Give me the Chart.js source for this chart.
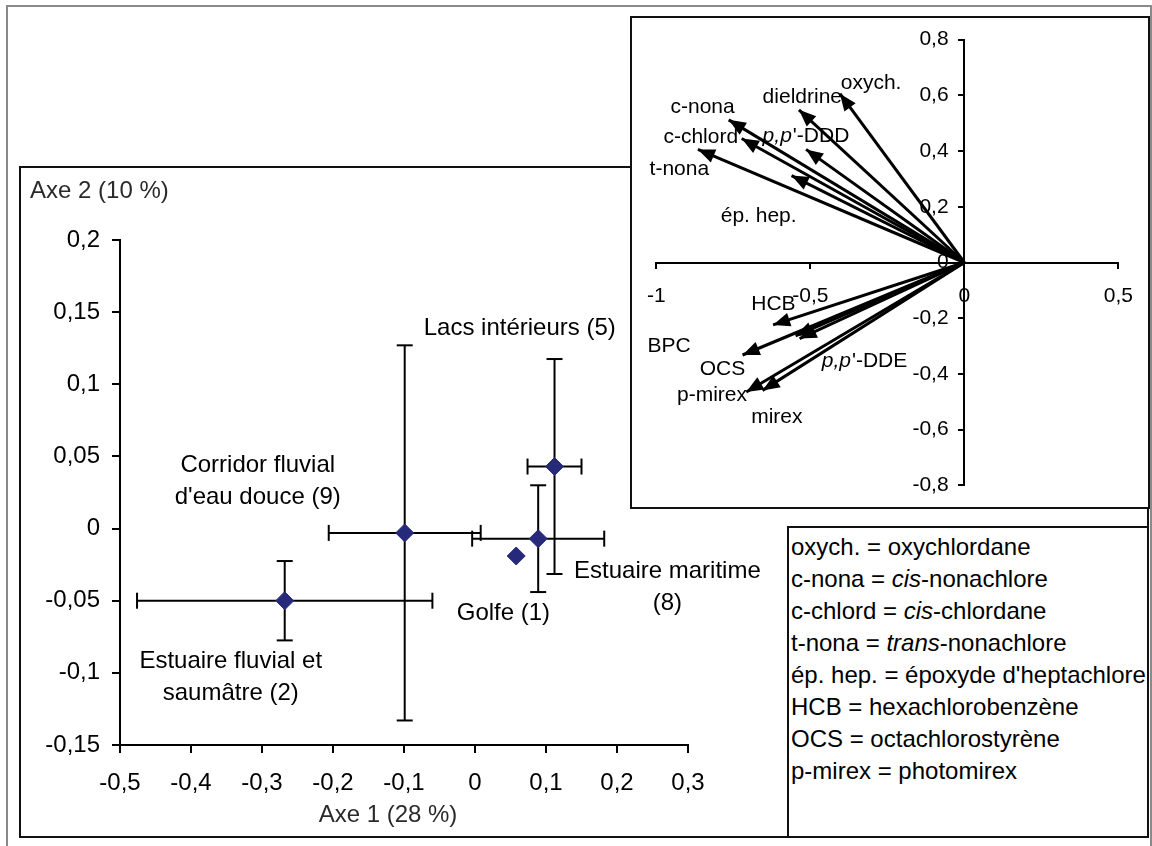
<!DOCTYPE html>
<html lang="fr">
<head>
<meta charset="utf-8">
<script src="https://cdn.jsdelivr.net/npm/chart.js@4.4.0/dist/chart.umd.min.js"></script>
<style>
  body { margin: 0; width: 1152px; height: 846px; overflow: hidden; position: relative; background: #fff;
         font-family: "Liberation Sans", Arial, sans-serif; }
  .box { position: absolute; box-sizing: border-box; }
  #cadre { left: 6px; top: 5px; width: 1146px; height: 870px; border: 2px solid #8a8a8a; }
  #boitePlan { left: 19px; top: 166px; width: 1130px; height: 672px; border: 2px solid #111; }
  #zonePlan { position: absolute; left: 0; top: 0; width: 1152px; height: 846px; }
  #boiteCercle { left: 630px; top: 16px; width: 520px; height: 493px; border: 2px solid #111; background: #fff; }
  #zoneCercle { position: absolute; left: 631px; top: 17px; width: 518px; height: 491px; }
  #legende { left: 787px; top: 526px; width: 362px; height: 312px; border: 2px solid #111; background: #fff;
             padding: 3px 0 0 2px; font-size: 24px; line-height: 32px; color: #000; white-space: nowrap; }
</style>
</head>
<body>
<div id="cadre" class="box"></div>
<div id="boitePlan" class="box"></div>
<div id="zonePlan"><canvas id="plan"></canvas></div>
<div id="boiteCercle" class="box"></div>
<div id="zoneCercle"><canvas id="cercle"></canvas></div>
<div id="legende" class="box">
  <div>oxych. = oxychlordane</div>
  <div>c-nona = <i>cis</i>-nonachlore</div>
  <div>c-chlord = <i>cis</i>-chlordane</div>
  <div>t-nona = <i>trans</i>-nonachlore</div>
  <div>ép. hep. = époxyde d'heptachlore</div>
  <div>HCB = hexachlorobenzène</div>
  <div>OCS = octachlorostyrène</div>
  <div>p-mirex = photomirex</div>
</div>

<script>
var FONT = '"Liberation Sans", Arial, sans-serif';

// Plan factoriel : centre de chaque groupe et écart sur chaque axe
var groupes = ['Estuaire fluvial et saumâtre (2)', "Corridor fluvial d'eau douce (9)", 'Lacs intérieurs (5)', 'Estuaire maritime (8)', 'Golfe (1)'];
var axe1 = [-0.268, -0.099, 0.112, 0.089, 0.058];
var axe2 = [-0.050, -0.003, 0.043, -0.007, -0.019];
var ecartAxe1 = [0.208, 0.107, 0.038, 0.093, 0];
var ecartAxe2 = [0.0275, 0.130, 0.0745, 0.037, 0];
var ticksAxe1 = [-0.5, -0.4, -0.3, -0.2, -0.1, 0, 0.1, 0.2, 0.3];
var ticksAxe2 = [-0.15, -0.1, -0.05, 0, 0.05, 0.1, 0.15, 0.2];

// libellés des groupes (ancrés en unités des axes)
var libellesGroupes = [['Estuaire fluvial et', 'saumâtre (2)'], ['Corridor fluvial', "d'eau douce (9)"], ['Lacs intérieurs (5)'], ['Estuaire maritime', '(8)'], ['Golfe (1)']];
var libelleX = [-0.344, -0.306, 0.063, 0.271, 0.040];
var libelleY = [-0.103, 0.033, 0.1385, -0.0405, -0.059];

// Cercle des corrélations : coordonnées des variables
var variables = ['oxych.', 'dieldrine', 'c-nona', 'c-chlord', "p,p'-DDD", 't-nona', 'ép. hep.', 'HCB', 'BPC', 'OCS', "p,p'-DDE", 'p-mirex', 'mirex'];
var coordX = [-0.404, -0.537, -0.765, -0.723, -0.514, -0.865, -0.561, -0.621, -0.548, -0.720, -0.535, -0.708, -0.655];
var coordY = [0.606, 0.548, 0.512, 0.445, 0.406, 0.406, 0.312, -0.224, -0.263, -0.332, -0.273, -0.465, -0.459];
var etiqX = [-0.4015, -0.655, -0.954, -0.977, -0.655, -1.022, -0.791, -0.692, -1.029, -0.859, -0.463, -0.933, -0.692];
var etiqY = [0.642, 0.595, 0.559, 0.450, 0.453, 0.336, 0.165, -0.151, -0.300, -0.383, -0.353, -0.477, -0.554];
var ticksCercleX = [-1, -0.5, 0, 0.5];
var ticksCercleY = [-0.8, -0.6, -0.4, -0.2, 0, 0.2, 0.4, 0.6, 0.8];

function virgule(v) {
    return String(Math.round(v * 100) / 100).replace('.', ',');
}

function trait(ctx, x1, y1, x2, y2) {
    ctx.beginPath();
    ctx.moveTo(x1, y1);
    ctx.lineTo(x2, y2);
    ctx.stroke();
}

// barres d'erreur sous les losanges
var barresErreur = {
    id: 'barresErreur',
    beforeDatasetsDraw: function(chart) {
        var ctx = chart.ctx, x = chart.scales.x, y = chart.scales.y;
        var cap = 8;
        ctx.save();
        ctx.strokeStyle = '#000';
        ctx.lineWidth = 2;
        axe1.forEach(function(v, i) {
            var px = x.getPixelForValue(v), py = y.getPixelForValue(axe2[i]);
            if (ecartAxe1[i]) {
                var l = x.getPixelForValue(v - ecartAxe1[i]), r = x.getPixelForValue(v + ecartAxe1[i]);
                trait(ctx, l, py, r, py);
                trait(ctx, l, py - cap, l, py + cap);
                trait(ctx, r, py - cap, r, py + cap);
            }
            if (ecartAxe2[i]) {
                var t = y.getPixelForValue(axe2[i] + ecartAxe2[i]), b = y.getPixelForValue(axe2[i] - ecartAxe2[i]);
                trait(ctx, px, t, px, b);
                trait(ctx, px - cap, t, px + cap, t);
                trait(ctx, px - cap, b, px + cap, b);
            }
        });
        ctx.restore();
    },
    afterDraw: function(chart) {
        var ctx = chart.ctx, x = chart.scales.x, y = chart.scales.y, a = chart.chartArea;
        ctx.save();
        ctx.fillStyle = '#000';
        ctx.font = '24px ' + FONT;
        ctx.textAlign = 'center';
        ctx.textBaseline = 'middle';
        libellesGroupes.forEach(function(lignes, i) {
            var cx = x.getPixelForValue(libelleX[i]), cy = y.getPixelForValue(libelleY[i]);
            lignes.forEach(function(txt, k) {
                ctx.fillText(txt, cx, cy + (k - (lignes.length - 1) / 2) * 32);
            });
        });
        // titres des axes
        ctx.fillStyle = '#2a2a2a';
        ctx.textAlign = 'left';
        ctx.fillText('Axe 2 (10 %)', a.left - 90, a.top - 49);
        ctx.textAlign = 'center';
        ctx.fillText('Axe 1 (28 %)', a.left + 268, a.bottom + 70);
        ctx.restore();
    }
};

new Chart(document.getElementById('plan'), {
    type: 'scatter',
    data: {
        datasets: [{
            label: 'Groupes',
            data: axe1.map(function(v, i) { return {x: v, y: axe2[i]}; }),
            pointStyle: 'rectRot',
            pointRadius: 9,
            pointHoverRadius: 9,
            backgroundColor: '#272A7A',
            borderColor: '#272A7A',
            borderWidth: 1
        }]
    },
    options: {
        responsive: true,
        maintainAspectRatio: false,
        animation: false,
        layout: {padding: {left: 20, right: 464, top: 240, bottom: 41}},
        plugins: {legend: {display: false}, tooltip: {enabled: false}},
        scales: {
            x: {
                type: 'linear', min: -0.5, max: 0.3,
                afterBuildTicks: function(s) { s.ticks = ticksAxe1.map(function(v) { return {value: v}; }); },
                afterFit: function(s) { s.height = 60; },
                grid: {drawOnChartArea: false, tickLength: 8, color: '#000', lineWidth: 2},
                border: {display: true, color: '#000', width: 2},
                ticks: {color: '#000', font: {family: FONT, size: 24}, padding: 16, maxRotation: 0, autoSkip: false,
                        callback: function(v) { return virgule(v); }}
            },
            y: {
                type: 'linear', min: -0.15, max: 0.2,
                afterBuildTicks: function(s) { s.ticks = ticksAxe2.map(function(v) { return {value: v}; }); },
                afterFit: function(s) { s.width = 100; },
                grid: {drawOnChartArea: false, tickLength: 8, color: '#000', lineWidth: 2},
                border: {display: true, color: '#000', width: 2},
                ticks: {color: '#000', font: {family: FONT, size: 24}, padding: 12, autoSkip: false,
                        callback: function(v) { return virgule(v); }}
            }
        }
    },
    plugins: [barresErreur]
});

// pointes de flèches et libellés des variables
var fleches = {
    id: 'fleches',
    afterDatasetsDraw: function(chart) {
        var ctx = chart.ctx, x = chart.scales.x, y = chart.scales.y;
        var ox = x.getPixelForValue(0), oy = y.getPixelForValue(0);
        ctx.save();
        ctx.fillStyle = '#000';
        coordX.forEach(function(v, i) {
            var tx = x.getPixelForValue(v), ty = y.getPixelForValue(coordY[i]);
            var ang = Math.atan2(ty - oy, tx - ox);
            var L = 17, W = 7;
            var bx = tx - L * Math.cos(ang), by = ty - L * Math.sin(ang);
            ctx.beginPath();
            ctx.moveTo(tx, ty);
            ctx.lineTo(bx + W * Math.sin(ang), by - W * Math.cos(ang));
            ctx.lineTo(bx - W * Math.sin(ang), by + W * Math.cos(ang));
            ctx.closePath();
            ctx.fill();
        });
        ctx.textAlign = 'left';
        ctx.textBaseline = 'middle';
        variables.forEach(function(nom, i) {
            var px = x.getPixelForValue(etiqX[i]), py = y.getPixelForValue(etiqY[i]);
            if (nom.indexOf("p,p'") === 0) {
                ctx.font = 'italic 21px ' + FONT;
                ctx.fillText('p,p', px, py);
                var w = ctx.measureText('p,p').width;
                ctx.font = '21px ' + FONT;
                ctx.fillText(nom.slice(3), px + w + 1, py);
            } else {
                ctx.font = '21px ' + FONT;
                ctx.fillText(nom, px, py);
            }
        });
        ctx.restore();
    }
};

new Chart(document.getElementById('cercle'), {
    type: 'scatter',
    data: {
        datasets: variables.map(function(nom, i) {
            return {
                label: nom,
                data: [{x: 0, y: 0}, {x: coordX[i], y: coordY[i]}],
                showLine: true,
                borderColor: '#000',
                borderWidth: 3,
                pointRadius: 0,
                pointHoverRadius: 0,
                fill: false
            };
        })
    },
    options: {
        responsive: true,
        maintainAspectRatio: false,
        animation: false,
        layout: {padding: {left: 22, right: 20, top: 20, bottom: 20}},
        plugins: {legend: {display: false}, tooltip: {enabled: false}},
        scales: {
            x: {
                type: 'linear', position: {y: 0}, min: -1, max: 0.5,
                afterBuildTicks: function(s) { s.ticks = ticksCercleX.map(function(v) { return {value: v}; }); },
                afterFit: function(s) { s.height = 0; },
                grid: {drawOnChartArea: false, tickLength: 5, color: '#000', lineWidth: 2},
                border: {display: true, color: '#000', width: 2},
                ticks: {color: '#000', font: {family: FONT, size: 21}, padding: 16, maxRotation: 0, autoSkip: false,
                        callback: function(v) { return virgule(v); }}
            },
            y: {
                type: 'linear', position: {x: 0}, min: -0.8, max: 0.8,
                afterBuildTicks: function(s) { s.ticks = ticksCercleY.map(function(v) { return {value: v}; }); },
                afterFit: function(s) { s.width = 0; },
                grid: {drawOnChartArea: false, tickLength: 5, color: '#000', lineWidth: 2},
                border: {display: true, color: '#000', width: 2},
                // étiquettes collées à l'axe centré : on les décale avec des espaces fines
                ticks: {color: '#000', font: {family: FONT, size: 21}, padding: 10, autoSkip: false,
                        callback: function(v) { return virgule(v) + '\u2002\u2005'; }}
            }
        }
    },
    plugins: [fleches]
});
</script>
</body>
</html>
